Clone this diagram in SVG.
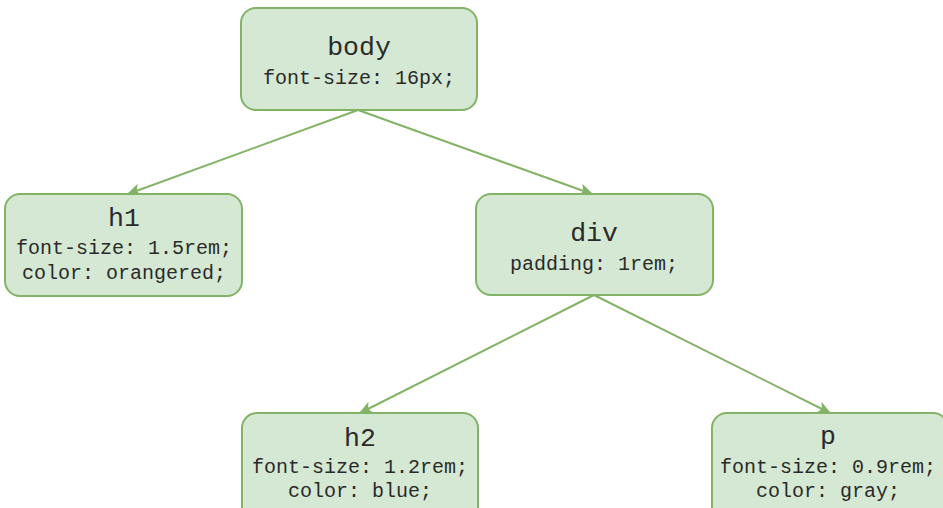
<svg xmlns="http://www.w3.org/2000/svg" width="943" height="508" viewBox="0 0 943 508">
<style>
.box{fill:#d5e8d4;stroke:#82b366;stroke-width:2}
.t{font-family:"Liberation Mono","DejaVu Sans Mono",monospace;fill:#2a2a2a;text-anchor:middle}
.h{font-size:26.5px}
.s{font-size:20px}
.e{stroke:#82b366;stroke-width:2;fill:none;marker-end:url(#a)}
</style>
<defs>
<marker id="a" viewBox="0 0 10 10" refX="9" refY="5" markerWidth="14" markerHeight="14" markerUnits="userSpaceOnUse" orient="auto">
<path d="M0,0.5 L10,5 L0,9.5 L2.5,5 Z" fill="#82b366"/>
</marker>
</defs>
<rect width="943" height="508" fill="#fff"/>
<g id="connectors">
<line class="e" x1="358" y1="110" x2="128" y2="194"/>
<line class="e" x1="358" y1="110" x2="592" y2="194"/>
<line class="e" x1="594" y1="295" x2="360" y2="413"/>
<line class="e" x1="594" y1="295" x2="830" y2="413"/>
</g>
<g id="body">
<rect class="box" x="241" y="8" width="236" height="102" rx="15"/>
<text class="t h" x="359" y="55">body</text>
<text class="t s" x="359" y="84">font-size: 16px;</text>
</g>
<g id="h1">
<rect class="box" x="5" y="194" width="237" height="102" rx="15"/>
<text class="t h" x="124" y="226">h1</text>
<text class="t s" x="124" y="254">font-size: 1.5rem;</text>
<text class="t s" x="124" y="279">color: orangered;</text>
</g>
<g id="div">
<rect class="box" x="476" y="194" width="237" height="101" rx="15"/>
<text class="t h" x="594" y="241">div</text>
<text class="t s" x="594" y="270">padding: 1rem;</text>
</g>
<g id="h2">
<rect class="box" x="242" y="413" width="236" height="110" rx="15"/>
<text class="t h" x="360" y="446">h2</text>
<text class="t s" x="360" y="473">font-size: 1.2rem;</text>
<text class="t s" x="360" y="497">color: blue;</text>
</g>
<g id="p">
<rect class="box" x="712" y="413" width="236" height="110" rx="15"/>
<text class="t h" x="828" y="444">p</text>
<text class="t s" x="828" y="473">font-size: 0.9rem;</text>
<text class="t s" x="828" y="497">color: gray;</text>
</g>
</svg>
